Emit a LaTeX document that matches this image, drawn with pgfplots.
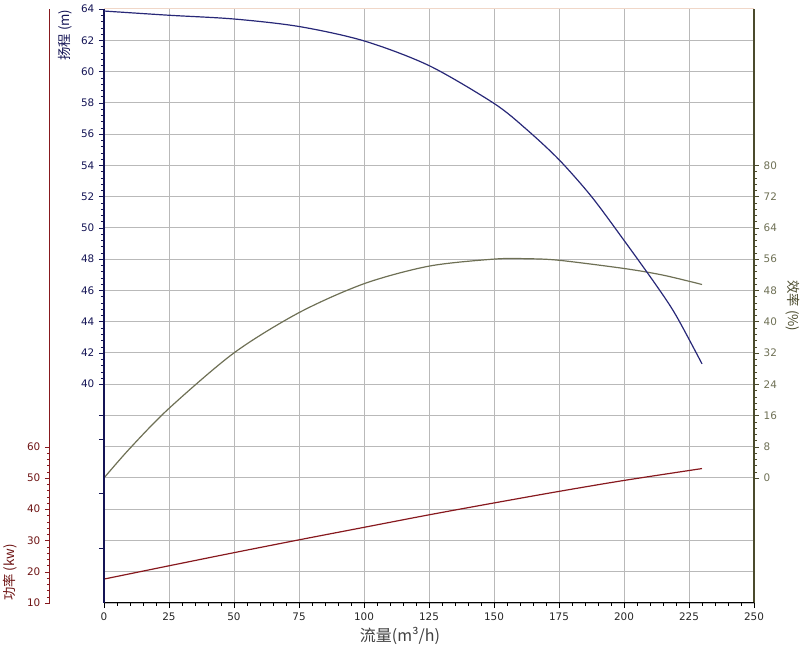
\documentclass[border=0pt]{standalone}
\usepackage{pgfplots}
\pgfplotsset{compat=1.18}
\usepackage{fontspec}
\setmainfont{DejaVu Sans}
\newfontfamily\cjk{Noto Sans CJK SC}
\definecolor{headc}{RGB}{40,40,120}
\definecolor{headaxis}{RGB}{20,20,85}
\definecolor{powc}{RGB}{135,25,30}
\definecolor{powtxt}{RGB}{110,20,20}
\definecolor{effc}{RGB}{110,112,85}
\definecolor{effaxis}{RGB}{75,75,45}
\definecolor{gridc}{RGB}{185,185,185}
\definecolor{topc}{RGB}{240,215,200}
\pgfplotsset{
  base/.style={scale only axis, width=487.5pt, height=445.5pt,
    xmin=0, xmax=250,
    /pgf/number format/assume math mode=true,
    tick label style={font=\fontsize{7.8}{9}\selectfont},
    tick align=outside, major tick length=3.75pt, minor tick length=2.25pt,
    clip=false}
}
\begin{document}
\begin{tikzpicture}
\useasboundingbox (-78pt,-37.5pt) rectangle (524.25pt,452.25pt);
% grid
\begin{axis}[base, ymin=26, ymax=64,
  xtick={0,25,...,250}, ytick={26,28,...,64},
  grid=major, major grid style={gridc, line width=0.75pt},
  axis line style={draw=none}, xticklabels={}, yticklabels={},
  tick style={draw=none}]
  \draw[topc, line width=0.75pt] (axis cs:0,64) -- (axis cs:250,64);
\end{axis}
% efficiency
\begin{axis}[base, ymin=-32, ymax=120,
  axis y line*=right, axis x line=none,
  ytick={0,8,...,80}, minor y tick num=4,
  y axis line style={-, effaxis, line width=0.9pt},
  ytick style={effaxis}, yticklabel style={effc}]
  \addplot[effc, line width=0.9pt, smooth] coordinates {
    (0,0) (10,7.6) (25,17.8) (50,32.0) (75,42.3) (100,49.7) (125,54.2)
    (150,56.0) (162.5,56.1) (175,55.7) (200,53.6) (215,51.9) (230,49.5)};
\end{axis}
% power
\begin{axis}[base, ymin=10, ymax=200,
  axis y line*=left, axis x line=none,
  ytick={10,20,...,60}, minor y tick num=4,
  y axis line style={-, powc, line width=0.75pt, xshift=-40.5pt},
  ytick style={powc, xshift=-40.5pt},
  yticklabel style={powtxt, xshift=-40.5pt}]
  \addplot[powc, line width=0.9pt, smooth] coordinates {
    (0,17.65) (25,21.9) (50,26.1) (75,30.2) (100,34.2) (125,38.2) (150,42.0)
    (175,45.7) (200,49.2) (230,53.0)};
\end{axis}
% head
\begin{axis}[base, ymin=26, ymax=64,
  axis x line*=bottom, axis y line*=left,
  xtick={0,25,...,250}, minor x tick num=4,
  ytick={40,42,...,64}, minor y tick num=4,
  extra y ticks={38,36.5,33,29.5}, extra y tick labels={},
  x axis line style={-, black, line width=0.75pt},
  y axis line style={-, headaxis, line width=1.3pt},
  ytick style={headaxis}, xtick style={black},
  yticklabel style={headaxis}, xticklabel style={black!85}]
  \addplot[headc, line width=0.9pt, smooth] coordinates {
    (0,63.87) (25,63.6) (50,63.36) (75,62.88) (100,61.96) (125,60.38)
    (150,57.96) (162.5,56.3) (175,54.36) (187.5,52.0) (200,49.2)
    (212.5,46.3) (220,44.4) (230,41.3)};
\end{axis}
% labels
\node[font=\cjk\fontsize{12}{14}\selectfont, text=black!75] at (222pt,-24.75pt) {流量(m³/h)};
\node[font=\cjk\fontsize{10}{12}\selectfont, text=headaxis, rotate=90] at (-29.25pt,426pt) {扬程 (m)};
\node[font=\cjk\fontsize{10}{12}\selectfont, text=powtxt, rotate=90] at (-70.5pt,23pt) {功率 (kw)};
\node[font=\cjk\fontsize{10}{12}\selectfont, text=effaxis, rotate=-90] at (516.75pt,222.75pt) {效率 (\%)};
\end{tikzpicture}
\end{document}
